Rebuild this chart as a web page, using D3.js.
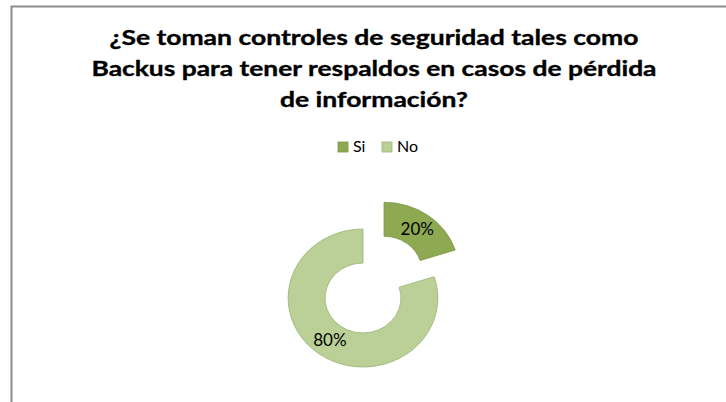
<!DOCTYPE html>
<html>
<head>
<meta charset="utf-8">
<script src="https://d3js.org/d3.v7.min.js"></script>
<style>
  body { margin: 0; background: #fff; }
  svg { display: block; }
</style>
</head>
<body>
<svg width="726" height="402"></svg>
<script>
// data
var categories = ["Si", "No"];
var values = [20, 80];
var colors = ["#8da951", "#bad097"];
var strokes = ["#7b9743", "#9bb574"];
var titleLines = [
  "¿Se toman controles de seguridad tales como",
  "Backus para tener respaldos en casos de pérdida",
  "de información?"
];

var svg = d3.select("svg"),
    width = +svg.attr("width"),
    height = +svg.attr("height");

// chart frame (cut off at right and bottom like the reference)
svg.append("rect")
    .attr("x", 11.5)
    .attr("y", 6.5)
    .attr("width", 760)
    .attr("height", 440)
    .attr("fill", "#fff")
    .attr("stroke", "#8c8c8c")
    .attr("stroke-width", 2);

// title; widths matched to the picture with textLength
var titleWidths = [529, 565, 188];
var titleBase = [45, 76, 107];
svg.append("g").selectAll("text")
  .data(titleLines)
  .enter().append("text")
    .attr("x", 374)
    .attr("y", function(d, i) { return titleBase[i]; })
    .attr("text-anchor", "middle")
    .attr("font-family", "Lato, 'Open Sans', sans-serif")
    .attr("font-weight", "bold")
    .attr("font-size", 20.5)
    .attr("fill", "#000")
    .attr("stroke", "#000")
    .attr("stroke-width", 0.35)
    .attr("textLength", function(d, i) { return titleWidths[i]; })
    .attr("lengthAdjust", "spacingAndGlyphs")
    .text(function(d) { return d; });

// legend
var legendX = [338, 382];
var legend = svg.append("g").selectAll("g")
  .data(categories)
  .enter().append("g")
    .attr("transform", function(d, i) { return "translate(" + legendX[i] + ",142)"; });

legend.append("rect")
    .attr("width", 10)
    .attr("height", 10)
    .attr("fill", function(d, i) { return colors[i]; })
    .attr("stroke", function(d, i) { return strokes[i]; })
    .attr("stroke-width", 0.8);

legend.append("text")
    .attr("x", 15)
    .attr("y", 10)
    .attr("font-family", "Lato, 'Open Sans', sans-serif")
    .attr("font-size", 16)
    .attr("fill", "#000")
    .text(function(d) { return d; });

// doughnut (picture is slightly stretched sideways)
var sx = 1.085;
var cx = 363, cy = 298;
var rIn = 35, rOut = 69, explode = 33;

var pie = d3.pie().sort(null).startAngle(0).endAngle(2 * Math.PI);
var arcs = pie(values);
var arc = d3.arc().innerRadius(rIn).outerRadius(rOut);

function shift(d, i) {
  if (i !== 0) return [0, 0];
  var a = (d.startAngle + d.endAngle) / 2;
  return [Math.sin(a) * explode, -Math.cos(a) * explode];
}

var g = svg.append("g")
    .attr("transform", "translate(" + cx + "," + cy + ") scale(" + sx + ",1)");

g.selectAll("path")
  .data(arcs)
  .enter().append("path")
    .attr("d", arc)
    .attr("transform", function(d, i) { return "translate(" + shift(d, i) + ")"; })
    .attr("fill", function(d, i) { return colors[i]; })
    .attr("stroke", function(d, i) { return strokes[i]; })
    .attr("stroke-width", 0.8);

svg.append("g").selectAll("text")
  .data(arcs)
  .enter().append("text")
    .attr("x", function(d, i) { return cx + (arc.centroid(d)[0] + shift(d, i)[0]) * sx; })
    .attr("y", function(d, i) { return cy + arc.centroid(d)[1] + shift(d, i)[1]; })
    .attr("dy", "0.36em")
    .attr("text-anchor", "middle")
    .attr("font-family", "Lato, 'Open Sans', sans-serif")
    .attr("font-size", 17)
    .attr("fill", "#000")
    .text(function(d) { return d.data + "%"; });
</script>
</body>
</html>
